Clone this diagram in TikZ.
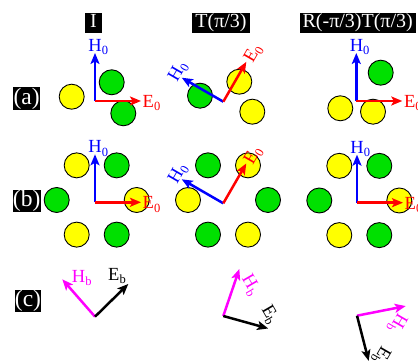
\documentclass[tikz,border=0pt]{standalone}
\usepackage{fontspec}
\setmainfont{Liberation Serif}
\usetikzlibrary{arrows.meta}
\definecolor{ballgreen}{RGB}{0,224,0}
\definecolor{ballyellow}{RGB}{255,255,0}
\definecolor{vmagenta}{RGB}{255,0,255}
\definecolor{vred}{RGB}{255,0,0}
\definecolor{vblue}{RGB}{0,0,255}
\newcommand\mysub[1]{\raisebox{-0.18em}{\fontsize{12.5}{12.5}\selectfont #1}}
\begin{document}
\begin{tikzpicture}[x=1pt,y=1pt,
  hdr/.style={fill=black,text=white,font=\fontsize{20}{20}\selectfont,inner xsep=3pt,inner ysep=0.5pt,text height=14pt,text depth=5pt},
  rowlbl/.style={fill=black,text=white,font=\fontsize{23.5}{24}\selectfont,inner xsep=0.4pt,inner ysep=0.6pt,text height=16.3pt,text depth=5.2pt},
  ball/.style={circle,draw=black,line width=0.9pt,minimum size=25pt,inner sep=0pt},
  yb/.style={ball,fill=ballyellow},
  gb/.style={ball,fill=ballgreen},
  vec/.style={line width=2.5pt,-{Stealth[length=11pt,width=9pt,inset=2.5pt]}},
  vlbl/.style={font=\fontsize{18.5}{18.5}\selectfont,inner sep=0pt},
]
\clip (0,0) rectangle (418,363);

% headers
\node[hdr,minimum width=16.7pt] (h1) at (93.5,339.7) {I};
\node[hdr] (h2) at (221,339.7) {T(π/3)};
\node[hdr] (h3) at (357.7,339.7) {R(-π/3)T(π/3)};

% row labels
\node[rowlbl] (ra) at (26.7,264.3) {(a)};
\node[rowlbl] (rb) at (26.7,162) {(b)};
\node[rowlbl] (rc) at (28,62) {(c)};

% ---------- row (a) circles ----------
\node[yb] (a1c1) at (71.7,266.3) {};
\node[gb] (a1c2) at (111.7,280.7) {};
\node[gb] (a1c3) at (123.3,249.7) {};
\node[gb] (a2c1) at (200,267.3) {};
\node[yb] (a2c2) at (239.3,281.3) {};
\node[yb] (a2c3) at (252.3,251.3) {};
\node[gb] (a3c1) at (380.7,290.3) {};
\node[yb] (a3c2) at (340.3,254.7) {};
\node[yb] (a3c3) at (373,251.3) {};

% ---------- row (b) circles ----------
\begin{scope}[shift={(96.7,163)}]
\node[yb] (b1c0) at (0:40) {};
\node[gb] (b1c1) at (60:40) {};
\node[yb] (b1c2) at (120:40) {};
\node[gb] (b1c3) at (180:40) {};
\node[yb] (b1c4) at (240:40) {};
\node[gb] (b1c5) at (300:40) {};
\end{scope}
\begin{scope}[shift={(228,163)}]
\node[gb] (b2c0) at (0:40) {};
\node[yb] (b2c1) at (60:40) {};
\node[gb] (b2c2) at (120:40) {};
\node[yb] (b2c3) at (180:40) {};
\node[gb] (b2c4) at (240:40) {};
\node[yb] (b2c5) at (300:40) {};
\end{scope}
\begin{scope}[shift={(359.3,162.5)}]
\node[yb] (b3c0) at (0:40) {};
\node[gb] (b3c1) at (60:40) {};
\node[yb] (b3c2) at (120:40) {};
\node[gb] (b3c3) at (180:40) {};
\node[yb] (b3c4) at (240:40) {};
\node[gb] (b3c5) at (300:40) {};
\end{scope}

% ---------- field vectors rows (a),(b) ----------
% row a col 1
\begin{scope}[shift={(95,262)}]
\coordinate (a1o) at (0,0); \coordinate (a1h) at (0,48); \coordinate (a1e) at (46,0);
\draw[vec,vblue] (a1o) -- (a1h);
\draw[vec,vred] (a1o) -- (a1e);
\node[vlbl,vblue,anchor=base] (a1hl) at (3.3,49.5) {H\mysub{0}};
\node[vlbl,vred,anchor=base west] (a1el) at (47.5,-6.5) {E\mysub{0}};
\end{scope}
% row a col 2
\begin{scope}[shift={(223.3,261.3)},rotate=60]
\coordinate (a2o) at (0,0); \coordinate (a2h) at (0,48); \coordinate (a2e) at (46,0);
\draw[vec,vblue] (a2o) -- (a2h);
\draw[vec,vred] (a2o) -- (a2e);
\node[vlbl,vblue,anchor=base,rotate=60] (a2hl) at (3.3,49.5) {H\mysub{0}};
\node[vlbl,vred,anchor=base west,rotate=60] (a2el) at (47.5,-6.5) {E\mysub{0}};
\end{scope}
% row a col 3
\begin{scope}[shift={(356.3,262)}]
\coordinate (a3o) at (0,0); \coordinate (a3h) at (0,48); \coordinate (a3e) at (46,0);
\draw[vec,vblue] (a3o) -- (a3h);
\draw[vec,vred] (a3o) -- (a3e);
\node[vlbl,vblue,anchor=base] (a3hl) at (3.3,49.5) {H\mysub{0}};
\node[vlbl,vred,anchor=base west] (a3el) at (47.5,-6.5) {E\mysub{0}};
\end{scope}
% row b col 1
\begin{scope}[shift={(95,160.7)}]
\coordinate (b1o) at (0,0); \coordinate (b1h) at (0,48); \coordinate (b1e) at (46,0);
\draw[vec,vblue] (b1o) -- (b1h);
\draw[vec,vred] (b1o) -- (b1e);
\node[vlbl,vblue,anchor=base] (b1hl) at (3.3,49.5) {H\mysub{0}};
\node[vlbl,vred,anchor=base west] (b1el) at (47.5,-6.5) {E\mysub{0}};
\end{scope}
% row b col 2
\begin{scope}[shift={(223.3,159.7)},rotate=60]
\coordinate (b2o) at (0,0); \coordinate (b2h) at (0,48); \coordinate (b2e) at (46,0);
\draw[vec,vblue] (b2o) -- (b2h);
\draw[vec,vred] (b2o) -- (b2e);
\node[vlbl,vblue,anchor=base,rotate=60] (b2hl) at (3.3,49.5) {H\mysub{0}};
\node[vlbl,vred,anchor=base west,rotate=60] (b2el) at (47.5,-6.5) {E\mysub{0}};
\end{scope}
% row b col 3
\begin{scope}[shift={(357,160.3)}]
\coordinate (b3o) at (0,0); \coordinate (b3h) at (0,48); \coordinate (b3e) at (46,0);
\draw[vec,vblue] (b3o) -- (b3h);
\draw[vec,vred] (b3o) -- (b3e);
\node[vlbl,vblue,anchor=base] (b3hl) at (3.3,49.5) {H\mysub{0}};
\node[vlbl,vred,anchor=base west] (b3el) at (47.5,-6.5) {E\mysub{0}};
\end{scope}

% ---------- row (c) ----------
\begin{scope}[shift={(95,46.3)}]
\coordinate (c1o) at (0,0); \coordinate (c1h) at (-32.7,37.4); \coordinate (c1e) at (33.3,32.7);
\draw[vec,vmagenta] (c1o) -- (c1h);
\draw[vec,black] (c1o) -- (c1e);
\node[vlbl,vmagenta] (c1hl) at (-13.3,38.7) {H\mysub{b}};
\node[vlbl,black] (c1el) at (22,40.7) {E\mysub{b}};
\end{scope}
\begin{scope}[shift={(223.3,47)},rotate=-60]
\coordinate (c2o) at (0,0); \coordinate (c2h) at (-32.7,37.4); \coordinate (c2e) at (33.3,32.7);
\draw[vec,vmagenta] (c2o) -- (c2h);
\draw[vec,black] (c2o) -- (c2e);
\node[vlbl,vmagenta,rotate=-60] (c2hl) at (-13.3,38.7) {H\mysub{b}};
\node[vlbl,black,rotate=-60] (c2el) at (22,40.7) {E\mysub{b}};
\end{scope}
\begin{scope}[shift={(357,47.3)},rotate=-120]
\coordinate (c3o) at (0,0); \coordinate (c3h) at (-32.7,37.4); \coordinate (c3e) at (33.3,32.7);
\draw[vec,vmagenta] (c3o) -- (c3h);
\draw[vec,black] (c3o) -- (c3e);
\node[vlbl,vmagenta,rotate=-120] (c3hl) at (-13.3,38.7) {H\mysub{b}};
\node[vlbl,black,rotate=-120] (c3el) at (22,40.7) {E\mysub{b}};
\end{scope}
\end{tikzpicture}
\end{document}
